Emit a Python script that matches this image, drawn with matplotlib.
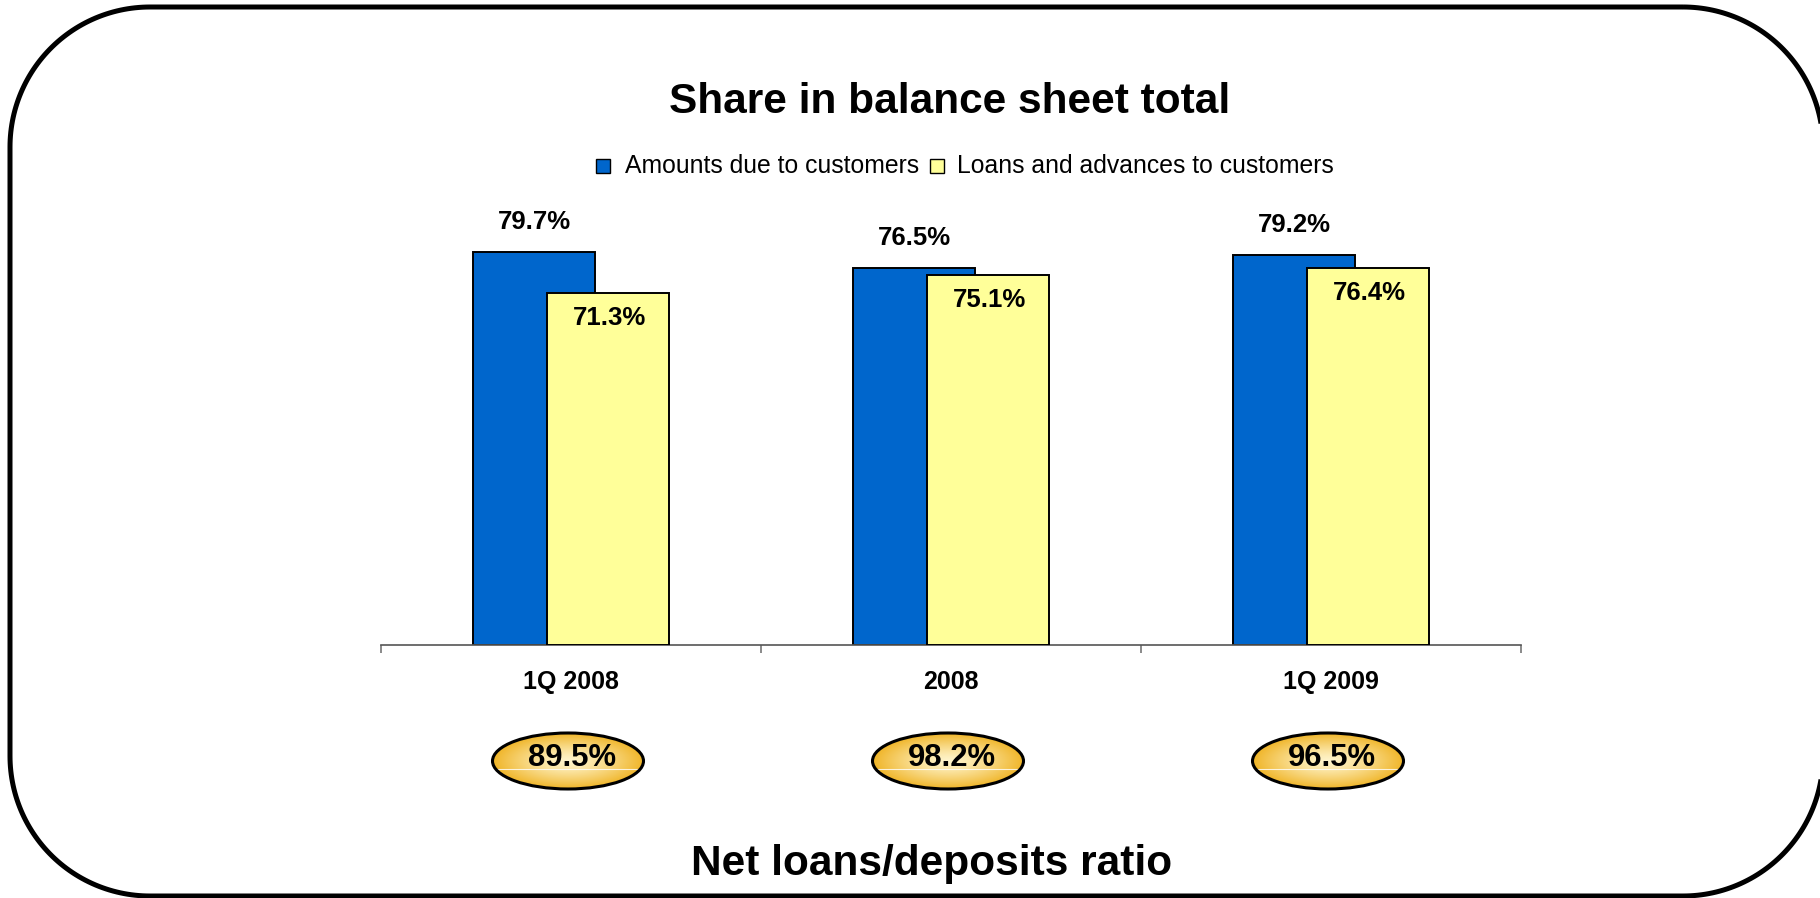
import matplotlib.pyplot as plt
import numpy as np
from matplotlib.patches import Ellipse, Rectangle, Polygon

plt.rcParams['font.family'] = ['Liberation Sans', 'DejaVu Sans']

# dados do gráfico
periodos = ["1Q 2008", "2008", "1Q 2009"]
depositos = [79.7, 76.5, 79.2]      # Amounts due to customers
emprestimos = [71.3, 75.1, 76.4]    # Loans and advances to customers
razao = [89.5, 98.2, 96.5]          # Net loans/deposits ratio

azul = "#0066CC"
amarelo = "#FFFF99"

W, H = 1820, 898
fig = plt.figure(figsize=(W / 100, H / 100), dpi=100)

# camada de fundo em pixels (moldura, legenda, elipses)
bg = fig.add_axes([0, 0, 1, 1], zorder=0)
bg.axis("off")


# moldura com cantos arredondados
def moldura(x0, y0, x1, y1, r, n=60):
    cantos = [
        (x1 - r, y0 + r, -90, 0),
        (x1 - r, y1 - r, 0, 90),
        (x0 + r, y1 - r, 90, 180),
        (x0 + r, y0 + r, 180, 270),
    ]
    pts = []
    for cx, cy, a0, a1 in cantos:
        t = np.radians(np.linspace(a0, a1, n))
        pts.extend(zip(cx + r * np.cos(t), cy + r * np.sin(t)))
    return np.array(pts)


bg.add_patch(Polygon(moldura(10, 7, 1823, 896, 140), closed=True, fill=False,
                     edgecolor="black", linewidth=3.6, joinstyle="round", clip_on=False))

# eixo principal das barras
ax = fig.add_axes([381 / W, (H - 645) / H, 1140 / W, 443.7 / H], zorder=1)
ax.patch.set_visible(False)
x = np.arange(len(periodos))
larg = 0.321
desl = 0.0974
ax.bar(x - desl, depositos, larg, color=azul, edgecolor="black", linewidth=1.4, zorder=2)
ax.bar(x + desl, emprestimos, larg, color=amarelo, edgecolor="black", linewidth=1.4, zorder=3)
ax.set_xlim(-0.5, 2.5)
ax.set_ylim(0, 90)

for s in ["top", "left", "right"]:
    ax.spines[s].set_visible(False)
ax.spines["bottom"].set_color("#555555")
ax.spines["bottom"].set_linewidth(1.2)
ax.set_yticks([])
ax.set_xticks([-0.5, 0.5, 1.5, 2.5])
ax.set_xticklabels([])
ax.tick_params(axis="x", direction="out", length=6, width=1.2, color="#777777")

for i in range(len(periodos)):
    ax.annotate(f"{depositos[i]:.1f}%", (x[i] - desl, depositos[i]), xytext=(0, 21.6),
                textcoords="offset points", ha="center", va="center",
                fontsize=18.5, fontweight="bold", zorder=5)
    ax.annotate(f"{emprestimos[i]:.1f}%", (x[i] + desl, emprestimos[i]), xytext=(1, -18),
                textcoords="offset points", ha="center", va="center",
                fontsize=18.5, fontweight="bold", zorder=5)
    ax.annotate(periodos[i], (x[i], 0), xycoords=("data", "axes fraction"), xytext=(0, -26.6),
                textcoords="offset points", ha="center", va="center",
                fontsize=18, fontweight="bold", annotation_clip=False)

# títulos
bg.text(950, 102, "Share in balance sheet total", ha="center", va="center",
        fontsize=30.5, fontweight="bold")
bg.text(932, 864, "Net loans/deposits ratio", ha="center", va="center",
        fontsize=30.5, fontweight="bold")

# legenda
bg.add_patch(Rectangle((603 - 7, 166 - 7), 14, 14, facecolor=azul, edgecolor="black", linewidth=1))
bg.text(625, 166, "Amounts due to customers", ha="left", va="center", fontsize=17.8)
bg.add_patch(Rectangle((937 - 7, 166 - 7), 14, 14, facecolor=amarelo, edgecolor="black", linewidth=1))
bg.text(957, 166, "Loans and advances to customers", ha="left", va="center", fontsize=17.8)

# elipses com gradiente radial
c_centro = np.array([1.0, 0.96, 0.80])
c_borda = np.array([0.94, 0.71, 0.16])
a, b = 75.5, 28
for i, v in enumerate(razao):
    cx = 381 + (i + 0.5) * 380 - 3
    cy = 761
    gx, gy = np.meshgrid(np.linspace(-1, 1, 200), np.linspace(-1, 1, 80))
    r = np.clip(np.sqrt(gx ** 2 + gy ** 2), 0, 1) ** 1.3
    img = c_centro[None, None, :] * (1 - r[..., None]) + c_borda[None, None, :] * r[..., None]
    el = Ellipse((cx, cy), 2 * a, 2 * b, facecolor="none", edgecolor="black", linewidth=2.2, zorder=3)
    bg.add_patch(el)
    im = bg.imshow(img, extent=(cx - a, cx + a, cy + b, cy - b), zorder=2, aspect="auto")
    im.set_clip_path(el)
    dy = 8
    hw = a * np.sqrt(1 - (dy / b) ** 2)
    bg.plot([cx - hw, cx + hw], [cy + dy, cy + dy], color="white", linewidth=0.8, alpha=0.8, zorder=2.5)
    bg.text(cx + 4, cy - 3, f"{v:.1f}%", ha="center", va="center",
            fontsize=22.3, fontweight="bold", zorder=4)

bg.set_xlim(0, W)
bg.set_ylim(H, 0)

fig.savefig("out.png", dpi=100)
